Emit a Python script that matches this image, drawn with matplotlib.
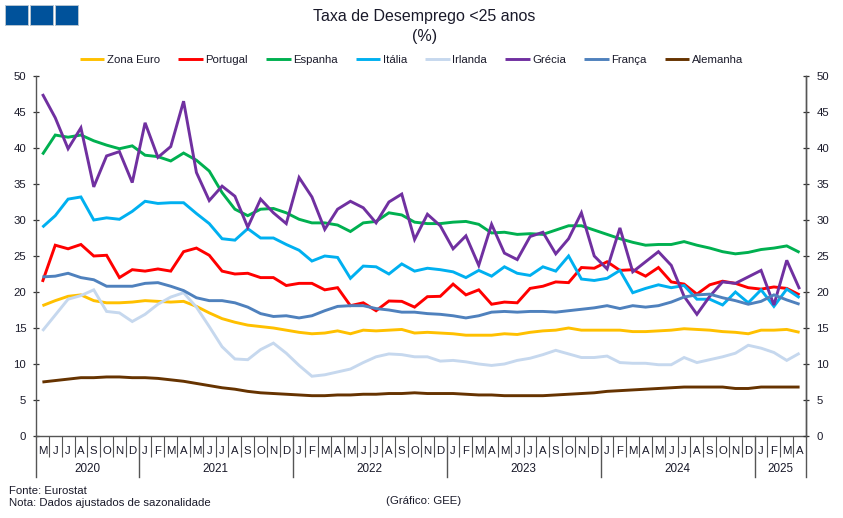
import matplotlib
matplotlib.use("Agg")
import matplotlib.pyplot as plt
from matplotlib.patches import Rectangle
from matplotlib.transforms import blended_transform_factory

months = list("MJJASOND") + list("JFMAMJJASOND") * 4 + list("JFMA")
years = ["2020", "2021", "2022", "2023", "2024", "2025"]
year_counts = [8, 12, 12, 12, 12, 4]

zona_euro = [18.1, 18.8, 19.4, 19.6, 18.8, 18.5, 18.5, 18.6, 18.8, 18.7, 18.6, 18.7, 18.0, 17.1, 16.3, 15.8, 15.4, 15.2, 15.0, 14.7,
             14.4, 14.2, 14.3, 14.6, 14.2, 14.7, 14.6, 14.7, 14.8, 14.3, 14.4, 14.3, 14.2, 14.0, 14.0, 14.0, 14.2, 14.1, 14.4, 14.6,
             14.7, 15.0, 14.7, 14.7, 14.7, 14.7, 14.5, 14.5, 14.6, 14.7, 14.9, 14.8, 14.7, 14.5, 14.4, 14.2, 14.7, 14.7, 14.8, 14.4]
portugal = [21.4, 26.5, 26.0, 26.6, 25.0, 25.1, 22.0, 23.1, 22.9, 23.2, 22.9, 25.6, 26.1, 25.1, 22.9, 22.5, 22.6, 22.0, 22.0, 20.9,
            21.2, 21.2, 20.3, 20.6, 18.1, 18.5, 17.4, 18.75, 18.7, 17.9, 19.35, 19.4, 21.1, 19.6, 20.3, 18.3, 18.6, 18.5, 20.5, 20.8,
            21.4, 21.3, 23.4, 23.3, 24.2, 23.0, 23.1, 22.2, 23.4, 21.4, 21.1, 19.7, 21.0, 21.5, 21.2, 20.6, 20.4, 20.7, 20.5, 19.6]
espanha = [39.1, 41.8, 41.5, 41.8, 41.0, 40.4, 39.9, 40.3, 39.0, 38.8, 38.2, 39.3, 38.3, 36.8, 33.8, 31.5, 30.6, 31.5, 31.6, 31.0,
           30.1, 29.6, 29.6, 29.3, 28.4, 29.6, 29.8, 31.0, 30.7, 29.7, 29.5, 29.5, 29.7, 29.8, 29.4, 28.2, 28.3, 28.0, 28.1, 28.0,
           28.6, 29.2, 29.2, 28.6, 28.0, 27.4, 26.9, 26.5, 26.6, 26.6, 27.0, 26.5, 26.1, 25.6, 25.3, 25.5, 25.9, 26.1, 26.4, 25.5]
italia = [29.0, 30.6, 32.9, 33.2, 30.0, 30.3, 30.1, 31.2, 32.6, 32.3, 32.4, 32.4, 30.9, 29.5, 27.4, 27.2, 28.8, 27.5, 27.5, 26.6,
          25.8, 24.3, 25.0, 24.8, 21.9, 23.6, 23.5, 22.5, 23.9, 22.9, 23.3, 23.1, 22.8, 22.0, 23.0, 22.2, 23.5, 22.6, 22.3, 23.5,
          22.9, 25.0, 21.8, 21.6, 21.9, 23.0, 19.9, 20.5, 21.0, 20.6, 20.9, 19.0, 19.0, 18.2, 20.0, 18.5, 20.3, 18.0, 20.4, 19.2]
irlanda = [14.6, 16.8, 19.0, 19.5, 20.3, 17.3, 17.1, 15.9, 16.9, 18.3, 19.3, 19.9, 17.9, 15.2, 12.4, 10.7, 10.6, 12.0, 12.9, 11.5,
           9.8, 8.3, 8.5, 8.9, 9.3, 10.2, 11.0, 11.4, 11.3, 11.0, 11.0, 10.4, 10.5, 10.3, 10.0, 9.8, 10.0, 10.5, 10.8, 11.3,
           11.9, 11.4, 10.9, 10.9, 11.1, 10.2, 10.1, 10.1, 9.9, 9.9, 10.9, 10.2, 10.6, 11.0, 11.5, 12.6, 12.2, 11.6, 10.5, 11.5]
grecia = [47.5, 44.2, 39.9, 42.8, 34.6, 38.9, 39.5, 35.2, 43.5, 38.7, 40.2, 46.5, 36.6, 32.7, 34.7, 33.3, 29.0, 32.9, 31.0, 29.5,
          35.9, 33.2, 28.7, 31.5, 32.6, 31.7, 29.6, 32.5, 33.6, 27.3, 30.8, 29.2, 26.0, 27.8, 23.7, 29.4, 25.4, 24.5, 27.7, 28.3,
          25.3, 27.4, 31.0, 25.0, 23.2, 28.9, 22.8, 24.2, 25.6, 23.7, 19.4, 16.9, 19.4, 21.4, 21.2, 22.1, 23.0, 18.2, 24.4, 20.4]
franca = [22.1, 22.2, 22.6, 22.0, 21.7, 20.8, 20.8, 20.8, 21.2, 21.3, 20.8, 20.2, 19.2, 18.8, 18.8, 18.5, 17.9, 17.0, 16.6, 16.7,
          16.4, 16.7, 17.4, 18.0, 18.1, 18.1, 17.7, 17.5, 17.2, 17.2, 17.0, 16.9, 16.7, 16.4, 16.7, 17.2, 17.3, 17.2, 17.3, 17.3,
          17.2, 17.4, 17.6, 17.8, 18.1, 17.7, 18.1, 17.9, 18.1, 18.6, 19.3, 19.6, 19.7, 19.2, 18.8, 18.3, 18.7, 19.6, 18.9, 18.3]
alemanha = [7.5, 7.7, 7.9, 8.1, 8.1, 8.2, 8.2, 8.1, 8.1, 8.0, 7.8, 7.6, 7.3, 7.0, 6.7, 6.5, 6.2, 6.0, 5.9, 5.8,
            5.7, 5.6, 5.6, 5.7, 5.7, 5.8, 5.8, 5.9, 5.9, 6.0, 5.9, 5.9, 5.9, 5.8, 5.7, 5.7, 5.6, 5.6, 5.6, 5.6,
            5.7, 5.8, 5.9, 6.0, 6.2, 6.3, 6.4, 6.5, 6.6, 6.7, 6.8, 6.8, 6.8, 6.8, 6.6, 6.6, 6.8, 6.8, 6.8, 6.8]

series_names = ["Zona Euro", "Portugal", "Espanha", "Itália", "Irlanda", "Grécia", "França", "Alemanha"]
series_values = [zona_euro, portugal, espanha, italia, irlanda, grecia, franca, alemanha]
series_colors = ["#FFC000", "#FF0000", "#00B050", "#00B0F0", "#C6D8EE", "#7030A0", "#4F81BD", "#663300"]

W, H = 843, 518
TXT = "#1a1a2a"
AX = "#555555"
FS = 8.2
plt.rcParams["font.family"] = ["Liberation Sans", "DejaVu Sans"]
plt.rcParams["font.size"] = FS
fig = plt.figure(figsize=(W / 100, H / 100), dpi=100)
L, R, T, B = 36, 806, 76, 436
ax = fig.add_axes([L / W, 1 - B / H, (R - L) / W, (B - T) / H])

x = range(len(months))
for name, vals, col in zip(series_names, series_values, series_colors):
    ax.plot(x, vals, color=col, lw=2.1, label=name, solid_joinstyle="miter", solid_capstyle="butt", clip_on=False)

ax.set_xlim(-0.5, len(months) - 0.5)
ax.set_ylim(0, 50)
ax.set_yticks(range(0, 51, 5))
ax.spines["top"].set_visible(False)
for s in ("left", "right", "bottom"):
    ax.spines[s].set_color(AX)
    ax.spines[s].set_linewidth(1.0)
ax.tick_params(axis="y", direction="inout", length=5, width=0.9, color="#333333", labelcolor=TXT, labelsize=FS, pad=4.5)

# x axis: month labels at the categories, separators between them
ax.set_xticks(list(x))
ax.set_xticklabels(months)
ax.tick_params(axis="x", which="major", length=0, pad=7.0, labelsize=FS, labelcolor=TXT)
bounds = [-0.5]
for c in year_counts:
    bounds.append(bounds[-1] + c)
ax.set_xticks([i - 0.5 for i in range(len(months) + 1) if (i - 0.5) not in bounds], minor=True)
ax.tick_params(axis="x", which="minor", length=15, width=0.8, color=AX, direction="out")

trans = blended_transform_factory(ax.transData, fig.transFigure)
for a, b, yr in zip(bounds[:-1], bounds[1:], years):
    ax.plot([a, a], [1 - B / H, 1 - 477 / H], transform=trans, color=AX, lw=1.0, clip_on=False)
    ax.text((a + b) / 2, 1 - 469 / H, yr, transform=trans, ha="center", va="center", color=TXT, fontsize=FS + 0.2)
ax.plot([bounds[-1]] * 2, [1 - B / H, 1 - 477 / H], transform=trans, color=AX, lw=1.0, clip_on=False)

axr = ax.twinx()
axr.set_ylim(0, 50)
axr.set_yticks(range(0, 51, 5))
for s in ("top", "left", "bottom"):
    axr.spines[s].set_visible(False)
axr.spines["right"].set_color(AX)
axr.spines["right"].set_linewidth(1.0)
axr.tick_params(axis="y", direction="inout", length=5, width=0.9, color="#333333", labelcolor=TXT, labelsize=FS, pad=5)

# header squares
for x0 in (5, 30, 55):
    fig.add_artist(Rectangle((x0 / W, 1 - 24.5 / H), 23 / W, 19.5 / H, transform=fig.transFigure,
                             facecolor="#00529B", edgecolor="#B5C4D2", lw=0.7))

# title
fig.text(424.5 / W, 1 - 16 / H, "Taxa de Desemprego <25 anos", ha="center", va="center", fontsize=11.5, color=TXT)
fig.text(424.5 / W, 1 - 36 / H, "(%)", ha="center", va="center", fontsize=11.5, color=TXT)

# legend
h, l = ax.get_legend_handles_labels()
fig.legend(h, l, ncol=8, loc="center", bbox_to_anchor=(411.5 / W, 1 - 60 / H), frameon=False, fontsize=FS,
           labelcolor=TXT, handlelength=2.15, handletextpad=0.2, columnspacing=1.62, borderpad=0, borderaxespad=0)

# notes
fig.text(9 / W, 1 - 490.5 / H, "Fonte: Eurostat", ha="left", va="center", fontsize=FS, color=TXT)
fig.text(9 / W, 1 - 503.5 / H, "Nota: Dados ajustados de sazonalidade", ha="left", va="center", fontsize=FS, color=TXT)
fig.text(424 / W, 1 - 501.5 / H, "(Gráfico: GEE)", ha="center", va="center", fontsize=FS, color=TXT)

fig.savefig("out.png", dpi=100, facecolor="white")
